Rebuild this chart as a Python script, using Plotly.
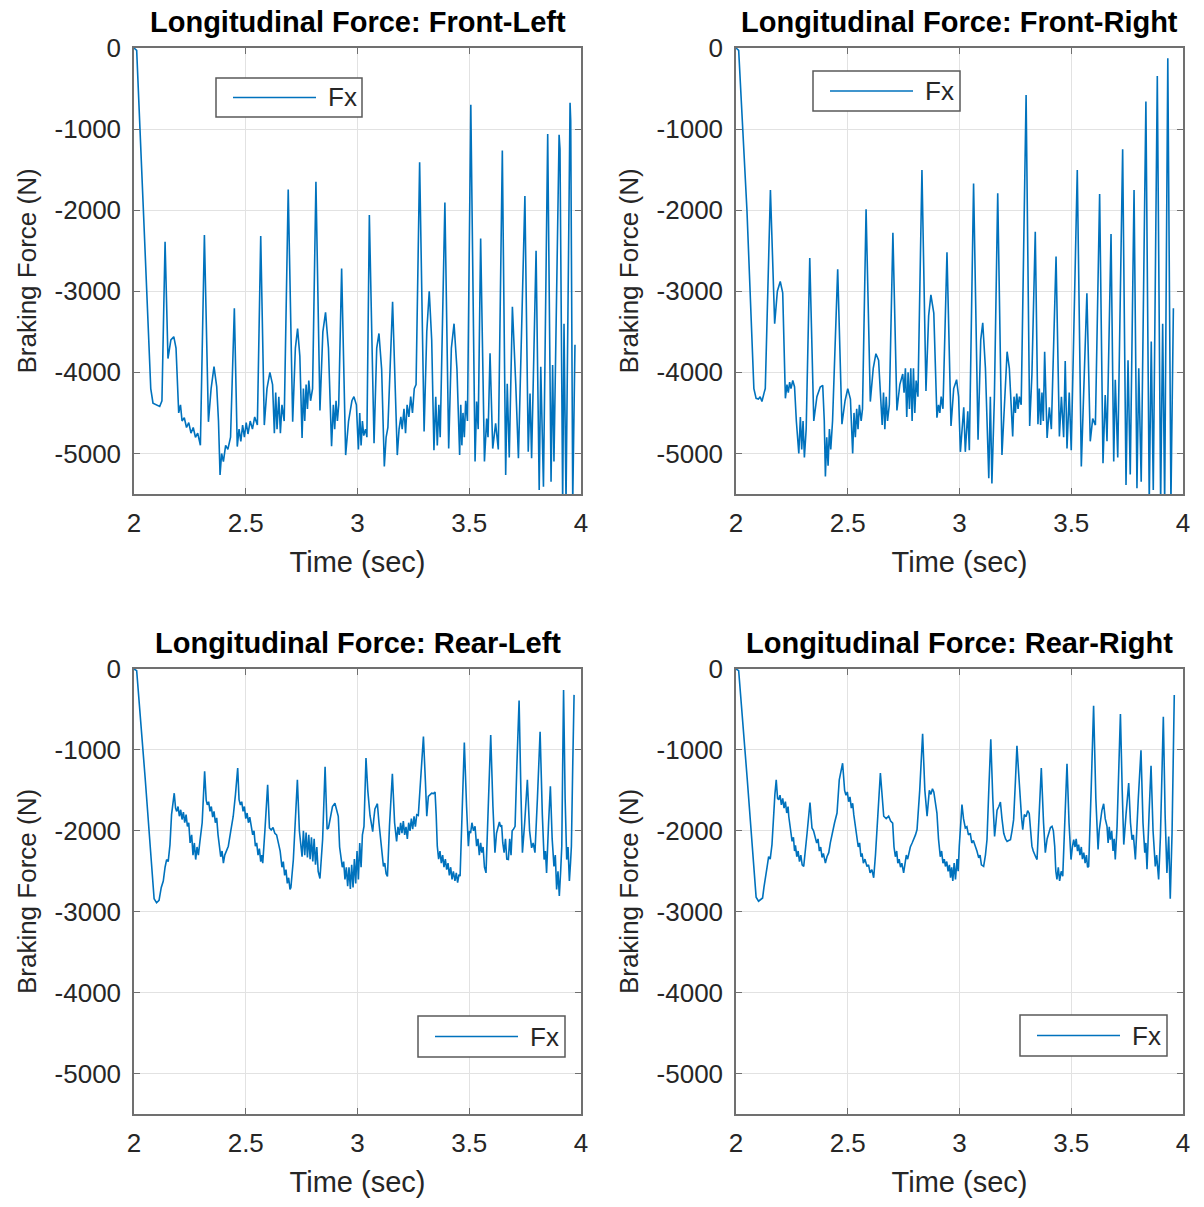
import plotly.graph_objects as go

# ---------------- data (time s, force N) ----------------
FL_POINTS = [
    (2.000, 0), (2.012, -30), (2.042, -2000), (2.075, -4200), (2.085, -4380), (2.100, -4400),
    (2.115, -4420), (2.125, -4350), (2.139, -2390), (2.152, -3830), (2.165, -3600), (2.178, -3560),
    (2.188, -3700), (2.200, -4500), (2.208, -4400), (2.215, -4600), (2.225, -4560), (2.235, -4680),
    (2.245, -4620), (2.255, -4750), (2.265, -4680), (2.275, -4800), (2.285, -4750), (2.297, -4900),
    (2.315, -2305), (2.333, -4610), (2.345, -4200), (2.358, -3930), (2.370, -4175), (2.378, -4600),
    (2.385, -5265), (2.392, -5000), (2.400, -5100), (2.410, -4900), (2.420, -4950), (2.432, -4800),
    (2.449, -3210), (2.462, -4915), (2.470, -4700), (2.478, -4850), (2.486, -4650), (2.494, -4800),
    (2.502, -4620), (2.510, -4760), (2.520, -4600), (2.530, -4700), (2.540, -4550), (2.552, -4650),
    (2.567, -2320), (2.583, -4650), (2.595, -4200), (2.608, -4000), (2.620, -4150), (2.628, -4750),
    (2.634, -4250), (2.640, -4700), (2.648, -4300), (2.655, -4750), (2.662, -4400), (2.672, -4600),
    (2.690, -1745), (2.710, -4610), (2.722, -3700), (2.732, -3460), (2.742, -3800), (2.752, -4810),
    (2.758, -4200), (2.764, -4600), (2.770, -4150), (2.776, -4450), (2.782, -4100), (2.790, -4350),
    (2.799, -4200), (2.814, -1650), (2.832, -4470), (2.845, -3500), (2.857, -3260), (2.870, -3700),
    (2.884, -4910), (2.892, -4400), (2.898, -4700), (2.904, -4350), (2.910, -4600), (2.916, -4400),
    (2.929, -2720), (2.947, -5020), (2.960, -4600), (2.975, -4350), (2.984, -4300), (2.995, -4400),
    (3.004, -4950), (3.010, -4500), (3.016, -4900), (3.022, -4600), (3.028, -4780), (3.036, -4700),
    (3.042, -4800), (3.053, -2060), (3.074, -4875), (3.086, -3700), (3.096, -3520), (3.108, -3960),
    (3.120, -5160), (3.128, -4800), (3.136, -4680), (3.157, -3130), (3.178, -5020), (3.186, -4700),
    (3.194, -4550), (3.200, -4700), (3.208, -4450), (3.215, -4750), (3.222, -4400), (3.230, -4550),
    (3.238, -4300), (3.246, -4500), (3.254, -4200), (3.262, -4150), (3.278, -1410), (3.298, -4730),
    (3.310, -3500), (3.321, -3000), (3.332, -3600), (3.342, -4960), (3.350, -4300), (3.357, -4900),
    (3.364, -4400), (3.370, -4800), (3.391, -1905), (3.408, -4940), (3.420, -3700), (3.432, -3400),
    (3.445, -3960), (3.457, -5020), (3.462, -4400), (3.467, -4900), (3.472, -4500), (3.478, -4800),
    (3.484, -4350), (3.492, -4600), (3.507, -700), (3.526, -5100), (3.533, -4360), (3.540, -4700),
    (3.551, -2350), (3.568, -5100), (3.578, -4570), (3.584, -4800), (3.593, -3765), (3.605, -4940),
    (3.618, -4630), (3.630, -4950), (3.648, -1265), (3.663, -5265), (3.670, -4140), (3.679, -5050),
    (3.693, -3190), (3.708, -4140), (3.720, -5060), (3.749, -1825), (3.764, -4980), (3.772, -4260),
    (3.779, -5060), (3.799, -2500), (3.813, -5450), (3.820, -3930), (3.832, -5410), (3.851, -1060),
    (3.866, -5350), (3.873, -3910), (3.879, -5100), (3.902, -1070), (3.906, -1250), (3.918, -5600),
    (3.924, -3400), (3.933, -5600), (3.951, -675), (3.954, -900), (3.963, -5600), (3.973, -3660),
]

FR_POINTS = [
    (2.000, 0), (2.012, -30), (2.049, -2000), (2.080, -4200), (2.090, -4320), (2.100, -4330),
    (2.108, -4300), (2.116, -4360), (2.126, -4250), (2.131, -4200), (2.154, -1750), (2.173, -3400),
    (2.185, -3000), (2.198, -2880), (2.209, -3020), (2.221, -4320), (2.228, -4150), (2.234, -4250),
    (2.240, -4120), (2.246, -4200), (2.254, -4100), (2.262, -4180), (2.270, -4600), (2.281, -5000),
    (2.288, -4550), (2.294, -4950), (2.300, -4600), (2.306, -5050), (2.314, -4700), (2.330, -2590),
    (2.348, -4600), (2.362, -4300), (2.377, -4180), (2.388, -4160), (2.395, -4600), (2.400, -5285),
    (2.406, -4800), (2.412, -5150), (2.418, -4700), (2.424, -4950), (2.432, -4600), (2.455, -2730),
    (2.474, -4640), (2.488, -4350), (2.500, -4200), (2.512, -4330), (2.522, -5000), (2.528, -4500),
    (2.534, -4800), (2.540, -4450), (2.546, -4700), (2.552, -4400), (2.560, -4600), (2.566, -4450),
    (2.582, -1990), (2.601, -4360), (2.614, -3950), (2.626, -3770), (2.638, -3850), (2.648, -4300),
    (2.654, -4650), (2.660, -4250), (2.666, -4700), (2.672, -4300), (2.678, -4600), (2.686, -4400),
    (2.702, -2280), (2.720, -4470), (2.733, -4150), (2.746, -4020), (2.752, -4250), (2.758, -3950),
    (2.764, -4550), (2.770, -4000), (2.776, -4450), (2.782, -3950), (2.788, -4600), (2.794, -3950),
    (2.800, -4500), (2.806, -4100), (2.814, -4300), (2.832, -1505), (2.850, -4230), (2.862, -3300),
    (2.872, -3045), (2.885, -3270), (2.899, -4560), (2.906, -4400), (2.912, -4500), (2.918, -4300),
    (2.926, -4450), (2.944, -2520), (2.962, -4660), (2.974, -4200), (2.987, -4090), (2.996, -4300),
    (3.004, -4980), (3.019, -4430), (3.026, -4980), (3.037, -4480), (3.044, -4960), (3.063, -1670),
    (3.083, -4830), (3.095, -3600), (3.104, -3390), (3.116, -3950), (3.131, -5305), (3.138, -4300),
    (3.145, -5370), (3.156, -4320), (3.171, -1790), (3.190, -5020), (3.202, -4320), (3.213, -3745),
    (3.223, -3950), (3.238, -4790), (3.244, -4300), (3.250, -4500), (3.256, -4260), (3.262, -4450),
    (3.268, -4300), (3.276, -4400), (3.298, -580), (3.314, -4660), (3.324, -4030), (3.339, -2265),
    (3.351, -4640), (3.357, -4200), (3.363, -4650), (3.369, -4250), (3.375, -4600), (3.381, -3745),
    (3.392, -4810), (3.402, -4430), (3.411, -4700), (3.432, -2570), (3.447, -4790), (3.456, -4300),
    (3.466, -4800), (3.473, -3860), (3.481, -4940), (3.491, -4250), (3.500, -4960), (3.527, -1505),
    (3.545, -5160), (3.556, -4240), (3.570, -3025), (3.585, -4850), (3.596, -4570), (3.608, -4650),
    (3.627, -1800), (3.642, -5120), (3.652, -4280), (3.660, -4850), (3.678, -2295), (3.690, -5100),
    (3.697, -4090), (3.708, -5050), (3.730, -1250), (3.745, -5390), (3.754, -3850), (3.764, -5260),
    (3.781, -1750), (3.794, -5430), (3.802, -3950), (3.813, -5350), (3.834, -660), (3.849, -5600),
    (3.858, -3620), (3.867, -5450), (3.885, -345), (3.900, -5600), (3.909, -3400), (3.918, -5600),
    (3.932, -125), (3.946, -5600), (3.957, -3210),
]

RL_POINTS = [
    (2.000, 0), (2.012, -20), (2.050, -1350), (2.090, -2840), (2.101, -2890), (2.112, -2860),
    (2.122, -2700), (2.131, -2620), (2.139, -2450), (2.146, -2355), (2.153, -2380), (2.161, -2170),
    (2.168, -1800), (2.174, -1650), (2.180, -1535), (2.186, -1720), (2.191, -1760), (2.197, -1700),
    (2.203, -1820), (2.209, -1740), (2.215, -1860), (2.221, -1770), (2.227, -1900), (2.233, -1800),
    (2.239, -1945), (2.245, -1900), (2.251, -2150), (2.258, -2050), (2.264, -2300), (2.270, -2150),
    (2.276, -2355), (2.282, -2200), (2.288, -2300), (2.295, -2130), (2.305, -1900), (2.316, -1265),
    (2.323, -1620), (2.328, -1680), (2.334, -1640), (2.340, -1760), (2.346, -1700), (2.352, -1830),
    (2.358, -1760), (2.364, -1900), (2.370, -1840), (2.376, -2050), (2.382, -2200), (2.388, -2320),
    (2.394, -2250), (2.400, -2400), (2.406, -2300), (2.414, -2250), (2.422, -2190), (2.433, -2000),
    (2.444, -1820), (2.454, -1550), (2.464, -1225), (2.470, -1615), (2.476, -1680), (2.482, -1640),
    (2.488, -1760), (2.494, -1700), (2.500, -1850), (2.506, -1780), (2.512, -1900), (2.518, -1830),
    (2.524, -1945), (2.531, -2050), (2.537, -2000), (2.543, -2190), (2.549, -2150), (2.555, -2300),
    (2.561, -2220), (2.567, -2380), (2.572, -2300), (2.576, -2400), (2.586, -1985), (2.598, -1430),
    (2.606, -1965), (2.614, -1990), (2.622, -1960), (2.630, -2030), (2.638, -2050), (2.646, -2150),
    (2.654, -2250), (2.662, -2450), (2.668, -2380), (2.674, -2550), (2.680, -2480), (2.686, -2650),
    (2.692, -2580), (2.698, -2725), (2.702, -2700), (2.713, -2355), (2.722, -1800), (2.731, -1370),
    (2.740, -2000), (2.746, -2190), (2.752, -2320), (2.758, -2000), (2.764, -2300), (2.770, -2020),
    (2.776, -2330), (2.782, -2050), (2.788, -2350), (2.794, -2080), (2.800, -2380), (2.806, -2100),
    (2.812, -2420), (2.818, -2200), (2.824, -2500), (2.832, -2590), (2.844, -2105), (2.855, -1210),
    (2.864, -1980), (2.870, -1965), (2.877, -1865), (2.888, -1700), (2.899, -1660), (2.906, -1750),
    (2.914, -1820), (2.920, -2200), (2.926, -2320), (2.932, -2450), (2.938, -2380), (2.944, -2600),
    (2.950, -2450), (2.956, -2685), (2.962, -2450), (2.968, -2720), (2.974, -2420), (2.980, -2700),
    (2.986, -2350), (2.992, -2650), (2.998, -2250), (3.004, -2600), (3.010, -2150), (3.016, -2450),
    (3.022, -2050), (3.029, -1945), (3.038, -1100), (3.046, -1500), (3.056, -1810), (3.062, -1900),
    (3.068, -2010), (3.073, -1850), (3.078, -1730), (3.083, -1700), (3.089, -1665), (3.096, -1900),
    (3.104, -2105), (3.110, -2300), (3.116, -2440), (3.122, -2400), (3.128, -2530), (3.134, -2565),
    (3.143, -1945), (3.156, -1295), (3.166, -1900), (3.175, -2130), (3.181, -1950), (3.187, -2050),
    (3.193, -1900), (3.199, -2030), (3.205, -1880), (3.211, -2050), (3.217, -1950), (3.223, -2100),
    (3.229, -1900), (3.235, -2000), (3.241, -1850), (3.247, -1980), (3.253, -1820), (3.259, -1950),
    (3.265, -1800), (3.272, -1810), (3.283, -1300), (3.295, -835), (3.304, -1400), (3.310, -1820),
    (3.317, -1575), (3.324, -1550), (3.332, -1535), (3.340, -1540), (3.347, -1520), (3.352, -1800),
    (3.357, -2190), (3.363, -2350), (3.369, -2250), (3.375, -2400), (3.381, -2300), (3.387, -2450),
    (3.393, -2350), (3.399, -2480), (3.405, -2400), (3.411, -2550), (3.417, -2450), (3.423, -2600),
    (3.429, -2500), (3.436, -2620), (3.442, -2520), (3.448, -2640), (3.454, -2540), (3.459, -2560),
    (3.466, -2030), (3.478, -910), (3.488, -1700), (3.496, -2190), (3.501, -2000), (3.506, -2030),
    (3.512, -1900), (3.519, -2000), (3.526, -1945), (3.533, -2190), (3.539, -2100), (3.545, -2300),
    (3.551, -2150), (3.556, -2270), (3.562, -2200), (3.568, -2450), (3.575, -2520), (3.585, -1800),
    (3.596, -815), (3.606, -1700), (3.615, -2270), (3.622, -2030), (3.628, -1950), (3.635, -1890),
    (3.640, -1950), (3.645, -1930), (3.650, -2150), (3.656, -2270), (3.662, -2100), (3.668, -2350),
    (3.675, -2355), (3.681, -2100), (3.687, -2300), (3.692, -2000), (3.697, -1985), (3.705, -1945),
    (3.713, -1200), (3.723, -390), (3.731, -1500), (3.738, -2270), (3.748, -1900), (3.760, -1370),
    (3.770, -2000), (3.779, -2210), (3.786, -2150), (3.794, -2270), (3.805, -1600), (3.817, -775),
    (3.827, -1800), (3.835, -2355), (3.841, -2250), (3.846, -2520), (3.855, -1900), (3.863, -1450),
    (3.871, -2100), (3.879, -2440), (3.885, -2300), (3.891, -2725), (3.897, -2500), (3.903, -2805),
    (3.909, -2500), (3.914, -2190), (3.918, -1200), (3.922, -260), (3.929, -1600), (3.936, -2355),
    (3.942, -2200), (3.948, -2620), (3.953, -2400), (3.957, -2190), (3.963, -1200), (3.969, -320),
]

RR_POINTS = [
    (2.000, 0), (2.012, -20), (2.050, -1350), (2.090, -2820), (2.101, -2870), (2.110, -2850),
    (2.119, -2830), (2.125, -2700), (2.131, -2565), (2.139, -2450), (2.146, -2320), (2.153, -2350),
    (2.161, -2170), (2.168, -1800), (2.174, -1550), (2.180, -1370), (2.186, -1600), (2.191, -1615),
    (2.197, -1560), (2.203, -1680), (2.209, -1600), (2.215, -1720), (2.221, -1640), (2.227, -1780),
    (2.233, -1700), (2.236, -1820), (2.243, -2000), (2.251, -2130), (2.257, -2080), (2.262, -2250),
    (2.266, -2180), (2.272, -2320), (2.278, -2250), (2.284, -2380), (2.290, -2300), (2.296, -2420),
    (2.303, -2440), (2.310, -2200), (2.318, -2030), (2.331, -1650), (2.340, -1965), (2.347, -2000),
    (2.355, -2070), (2.361, -2150), (2.367, -2100), (2.373, -2250), (2.379, -2200), (2.385, -2330),
    (2.391, -2280), (2.400, -2400), (2.407, -2320), (2.415, -2270), (2.422, -2150), (2.430, -2030),
    (2.441, -1900), (2.452, -1780), (2.462, -1370), (2.477, -1165), (2.486, -1500), (2.492, -1560),
    (2.498, -1520), (2.504, -1640), (2.510, -1580), (2.516, -1720), (2.522, -1660), (2.527, -1800),
    (2.534, -1950), (2.541, -2110), (2.547, -2200), (2.553, -2150), (2.559, -2320), (2.564, -2280),
    (2.570, -2400), (2.577, -2350), (2.586, -2440), (2.593, -2420), (2.600, -2520), (2.608, -2480),
    (2.616, -2580), (2.624, -2300), (2.631, -1945), (2.646, -1285), (2.661, -1820), (2.672, -1850),
    (2.683, -1820), (2.692, -1880), (2.701, -1905), (2.707, -2200), (2.713, -2320), (2.719, -2250),
    (2.724, -2400), (2.730, -2350), (2.736, -2450), (2.742, -2400), (2.750, -2520), (2.756, -2400),
    (2.762, -2300), (2.768, -2350), (2.773, -2270), (2.780, -2200), (2.788, -2150), (2.795, -2110),
    (2.803, -2050), (2.810, -1985), (2.822, -1500), (2.835, -800), (2.845, -1500), (2.855, -1820),
    (2.860, -1700), (2.865, -1500), (2.872, -1550), (2.879, -1480), (2.885, -1520), (2.892, -1650),
    (2.899, -1780), (2.906, -2100), (2.914, -2320), (2.920, -2250), (2.926, -2400), (2.932, -2350),
    (2.937, -2440), (2.943, -2380), (2.949, -2500), (2.955, -2420), (2.960, -2580), (2.965, -2450),
    (2.970, -2620), (2.976, -2400), (2.982, -2600), (2.989, -2350), (2.994, -2500), (2.999, -2190),
    (3.005, -1900), (3.011, -1675), (3.018, -1850), (3.026, -1965), (3.033, -1950), (3.040, -2050),
    (3.048, -2030), (3.055, -2150), (3.062, -2120), (3.071, -2190), (3.078, -2250), (3.086, -2335),
    (3.092, -2300), (3.098, -2420), (3.108, -2440), (3.116, -2300), (3.123, -2110), (3.131, -1500),
    (3.140, -870), (3.149, -1600), (3.157, -2070), (3.163, -1900), (3.168, -1745), (3.176, -1700),
    (3.183, -1645), (3.190, -1850), (3.198, -2030), (3.206, -2100), (3.213, -2130), (3.220, -2120),
    (3.228, -2110), (3.235, -2000), (3.242, -1865), (3.250, -1400), (3.257, -950), (3.265, -1300),
    (3.272, -1665), (3.278, -1850), (3.283, -1985), (3.290, -1800), (3.298, -1825), (3.305, -1750),
    (3.312, -1785), (3.318, -1950), (3.324, -2190), (3.330, -2250), (3.336, -2300), (3.342, -2330),
    (3.347, -2355), (3.357, -1800), (3.366, -1225), (3.376, -1900), (3.384, -2270), (3.392, -2100),
    (3.399, -2030), (3.407, -1960), (3.414, -1945), (3.420, -2000), (3.426, -2190), (3.431, -2500),
    (3.436, -2600), (3.442, -2450), (3.448, -2620), (3.455, -2500), (3.462, -2560), (3.470, -1900),
    (3.481, -1170), (3.490, -1900), (3.499, -2355), (3.505, -2200), (3.511, -2110), (3.517, -2200),
    (3.522, -2100), (3.528, -2250), (3.533, -2170), (3.539, -2300), (3.545, -2200), (3.550, -2350),
    (3.556, -2270), (3.562, -2400), (3.568, -2300), (3.573, -2450), (3.578, -2440), (3.589, -1500),
    (3.600, -455), (3.610, -1600), (3.620, -2230), (3.625, -2000), (3.630, -1865), (3.637, -1750),
    (3.645, -1665), (3.652, -1850), (3.660, -1945), (3.665, -2150), (3.670, -1950), (3.675, -2110),
    (3.681, -2000), (3.687, -2250), (3.692, -2100), (3.697, -2355), (3.705, -1945), (3.712, -1300),
    (3.720, -555), (3.728, -1500), (3.735, -2170), (3.745, -1800), (3.757, -1410), (3.765, -1900),
    (3.772, -2110), (3.778, -2050), (3.783, -2300), (3.787, -2355), (3.800, -1600), (3.812, -1005),
    (3.821, -1900), (3.829, -2270), (3.834, -2150), (3.839, -2475), (3.848, -1800), (3.857, -1195),
    (3.866, -2000), (3.876, -2440), (3.882, -2300), (3.887, -2550), (3.891, -2600), (3.899, -2070),
    (3.906, -1200), (3.912, -590), (3.920, -1800), (3.928, -2520), (3.936, -2070), (3.943, -2840),
    (3.951, -2030), (3.956, -1200), (3.961, -320),
]

TITLES = ["Longitudinal Force: Front-Left", "Longitudinal Force: Front-Right",
          "Longitudinal Force: Rear-Left", "Longitudinal Force: Rear-Right"]
X_TICKS = [2, 2.5, 3, 3.5, 4]
X_TICK_LABELS = ["2", "2.5", "3", "3.5", "4"]
Y_TICKS = [0, -1000, -2000, -3000, -4000, -5000]
Y_TICK_LABELS = ["0", "-1000", "-2000", "-3000", "-4000", "-5000"]
SERIES_NAME = "Fx"

# ---------------- layout constants (pixels in a 1204 x 1207 canvas) ----------------
W, H = 1204, 1207
FONT = "Liberation Sans, Arial, Helvetica, sans-serif"
LINE_COLOR = "#0072BD"
AXIS_COLOR = "#707070"
GRID_COLOR = "#e2e2e2"
TEXT_COLOR = "#262626"

# plot boxes: (left, top, right, bottom) in pixels
BOXES = [(134, 48, 581, 494), (736, 48, 1183, 494),
         (134, 669, 581, 1114), (736, 669, 1183, 1114)]
# legend boxes (left, top, right, bottom) in pixels
LEGEND_BOXES = [(216, 78, 362, 117), (813, 71, 960, 111),
                (418, 1016, 565, 1057), (1020, 1015, 1167, 1056)]


def px(x):
    return x / W


def py(y):
    return 1 - y / H


fig = go.Figure()
all_points = [FL_POINTS, FR_POINTS, RL_POINTS, RR_POINTS]

layout_axes = {}
annotations = []
shapes = []
for i, (pts, box, title, lbox) in enumerate(zip(all_points, BOXES, TITLES, LEGEND_BOXES)):
    n = "" if i == 0 else str(i + 1)
    times = [p[0] for p in pts]
    forces = [p[1] for p in pts]
    fig.add_trace(go.Scatter(
        x=times, y=forces, mode="lines", name=SERIES_NAME,
        line=dict(color=LINE_COLOR, width=1.6),
        xaxis="x" + n, yaxis="y" + n, showlegend=False,
    ))
    l, t, r, b = box
    common = dict(
        showline=True, linecolor=AXIS_COLOR, linewidth=1.5, mirror="ticks",
        ticks="inside", ticklen=6, tickcolor=AXIS_COLOR, tickwidth=1,
        showgrid=True, gridcolor=GRID_COLOR, gridwidth=1, zeroline=False,
        automargin=False,
        tickfont=dict(family=FONT, size=26, color=TEXT_COLOR),
    )
    layout_axes["xaxis" + n] = dict(
        common, domain=[px(l), px(r)], range=[2, 4], anchor="y" + n,
        tickmode="array", tickvals=X_TICKS, ticktext=X_TICK_LABELS,
        ticklabelstandoff=5,
        title=dict(text="Time (sec)", font=dict(family=FONT, size=29, color=TEXT_COLOR), standoff=15),
    )
    layout_axes["yaxis" + n] = dict(
        common, domain=[py(b), py(t)], range=[-5500, 0], anchor="x" + n,
        tickmode="array", tickvals=Y_TICKS, ticktext=Y_TICK_LABELS,
        ticklabelstandoff=6,
        title=dict(text="Braking Force (N)", font=dict(family=FONT, size=26, color=TEXT_COLOR), standoff=10),
    )
    annotations.append(dict(
        text="<b>" + title + "</b>", x=px((l + r) / 2), y=py(t - 26), xref="paper", yref="paper",
        xanchor="center", yanchor="middle", showarrow=False,
        font=dict(family=FONT, size=29, color="#000000"),
    ))
    # legend box
    ll, lt, lr, lb = lbox
    shapes.append(dict(type="rect", xref="paper", yref="paper",
                       x0=px(ll), x1=px(lr), y0=py(lb), y1=py(lt),
                       line=dict(color="#5a5a5a", width=1.5), fillcolor="white", layer="above"))
    ym = (lt + lb) / 2
    shapes.append(dict(type="line", xref="paper", yref="paper",
                       x0=px(ll + 17), x1=px(ll + 100), y0=py(ym), y1=py(ym),
                       line=dict(color=LINE_COLOR, width=1.6), layer="above"))
    annotations.append(dict(
        text=SERIES_NAME, x=px(ll + 110), y=py(ym), xref="paper", yref="paper",
        xanchor="left", yanchor="middle", showarrow=False,
        font=dict(family=FONT, size=26, color=TEXT_COLOR),
    ))

fig.update_layout(
    width=W, height=H,
    margin=dict(l=0, r=0, t=0, b=0, pad=0, autoexpand=False),
    paper_bgcolor="white", plot_bgcolor="white",
    showlegend=False,
    annotations=annotations, shapes=shapes,
    **layout_axes,
)

fig.write_html("out.html")
